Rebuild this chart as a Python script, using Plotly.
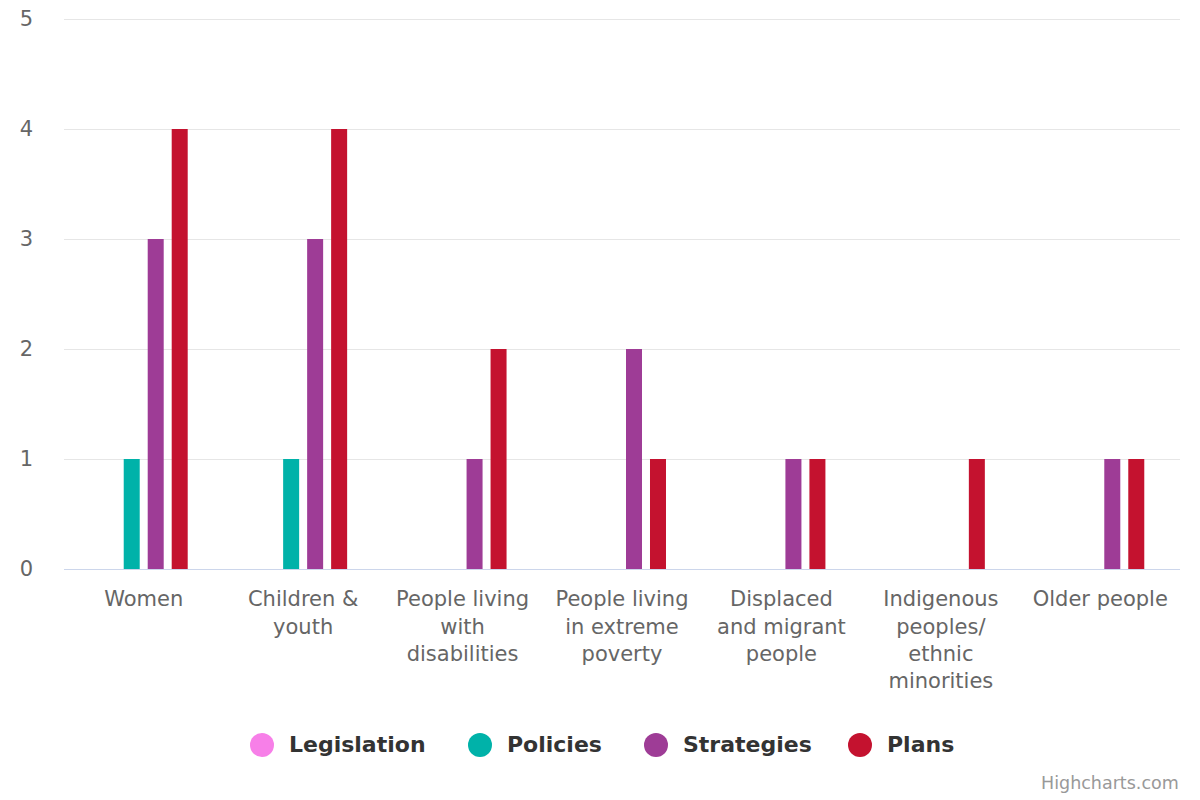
import plotly.graph_objects as go

categories = ["Women", "Children &<br>youth", "People living<br>with<br>disabilities",
              "People living<br>in extreme<br>poverty", "Displaced<br>and migrant<br>people",
              "Indigenous<br>peoples/<br>ethnic<br>minorities", "Older people"]
series_names = ["Legislation", "Policies", "Strategies", "Plans"]
legislation = [0, 0, 0, 0, 0, 0, 0]
policies = [1, 1, 0, 0, 0, 0, 0]
strategies = [3, 3, 1, 2, 1, 0, 1]
plans = [4, 4, 2, 1, 1, 1, 1]
colors = ["#f77fe8", "#00b2a9", "#9e3c96", "#c4122f"]
y_ticks = [0, 1, 2, 3, 4, 5]

# page has an 8px body margin; plot area target: x 64..1180, y 18..569
PL, PR, PT, PB = 64, 1180, 18, 569
def px_x(p):
    return (p - PL) / (PR - PL)
def px_y(p):
    return (PB - p) / (PB - PT)

fig = go.Figure()
for name, vals, col in zip(series_names, [legislation, policies, strategies, plans], colors):
    fig.add_trace(go.Bar(x=categories, y=vals, name=name, marker_color=col,
                         marker_line_width=0, showlegend=False))

font = "DejaVu Sans, sans-serif"

# manual legend (circle symbols with bold labels)
legend_circle_x = [262, 480, 656, 860]
legend_y = 745
shapes = []
annotations = []
for name, col, cx in zip(series_names, colors, legend_circle_x):
    shapes.append(dict(type="circle", xref="paper", yref="paper",
                       x0=px_x(cx - 12), x1=px_x(cx + 12),
                       y0=px_y(legend_y + 12), y1=px_y(legend_y - 12),
                       fillcolor=col, line_width=0))
    annotations.append(dict(text="<b>%s</b>" % name, xref="paper", yref="paper",
                            x=px_x(cx + 25), y=px_y(legend_y), xanchor="left", yanchor="middle",
                            showarrow=False, font=dict(family=font, size=22, color="#333333")))
annotations.append(dict(text="Highcharts.com", xref="paper", yref="paper",
                        x=px_x(1181), y=px_y(783), xanchor="right", yanchor="middle",
                        showarrow=False, font=dict(family=font, size=17.5, color="#999999")))

fig.update_layout(
    width=1200, height=800,
    margin=dict(l=PL - 8, r=1200 + 8 - PR, t=PT - 8, b=800 + 8 - PB, autoexpand=False),
    paper_bgcolor="white", plot_bgcolor="white",
    barmode="group", bargap=0.398, bargroupgap=0.333,
    font=dict(family=font, color="#666666", size=21),
    showlegend=False,
    xaxis=dict(showgrid=False, showline=True, linecolor="#ccd6eb", linewidth=1,
               ticks="", tickfont=dict(size=21, color="#666666"), ticklabelstandoff=11,
               automargin=False),
    yaxis=dict(range=[0, 5.01], tickvals=y_ticks, showgrid=True, gridcolor="#e6e6e6",
               gridwidth=1, zeroline=False, showline=False, ticks="",
               tickfont=dict(size=21, color="#666666"), ticklabelstandoff=30,
               ticklabeloverflow="allow", automargin=False),
    shapes=shapes,
    annotations=annotations,
)
fig.write_html("out.html")
